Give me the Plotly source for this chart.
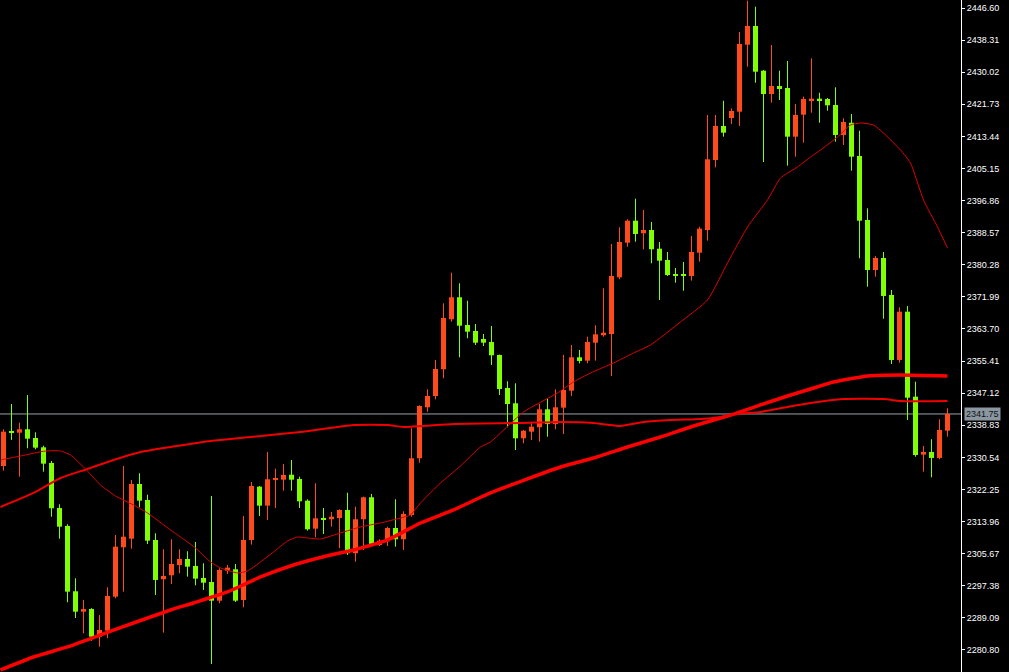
import plotly.graph_objects as go

# ---- candle data (index 0..118), prices ----
opens = [2328.32, 2337.18, 2336.92, 2337.80, 2335.55, 2333.15, 2329.10, 2317.47, 2312.83, 2295.96,
         2290.69, 2291.39, 2284.24, 2285.79, 2294.57, 2307.32, 2309.55, 2323.67, 2319.54, 2309.21,
         2299.06, 2300.09, 2302.75, 2304.30, 2302.50, 2299.40, 2298.36, 2293.53, 2301.28, 2301.64,
         2293.71, 2309.21, 2322.98, 2318.07, 2324.71, 2324.78, 2326.07, 2324.96, 2319.36, 2312.13,
         2314.89, 2314.56, 2314.89, 2316.96, 2305.78, 2314.56, 2320.24, 2307.92, 2308.87, 2312.31,
         2309.39, 2315.67, 2330.31, 2343.48, 2346.40, 2353.30, 2366.21, 2371.89, 2364.74, 2363.19,
         2361.12, 2360.35, 2356.99, 2348.47, 2344.51, 2335.47, 2337.18, 2338.32, 2342.96, 2339.17,
         2343.38, 2347.77, 2356.39, 2355.52, 2360.16, 2362.08, 2362.41, 2377.05, 2385.99, 2391.67,
         2388.42, 2389.27, 2384.44, 2381.52, 2377.91, 2377.65, 2377.39, 2383.41, 2389.27, 2407.35,
         2416.13, 2418.20, 2419.82, 2437.13, 2441.96, 2430.41, 2424.39, 2426.46, 2425.94, 2413.37,
         2419.05, 2422.84, 2423.02, 2423.10, 2421.55, 2413.81, 2416.98, 2408.38, 2391.85, 2378.94,
         2382.04, 2372.48, 2355.70, 2368.17, 2346.22, 2331.24, 2331.94, 2330.39, 2337.44]
highs = [2337.80, 2344.33, 2339.50, 2346.66, 2337.02, 2333.56, 2329.61, 2318.43, 2313.26, 2299.32,
         2293.71, 2291.60, 2289.84, 2296.99, 2310.50, 2328.32, 2324.71, 2326.44, 2320.91, 2310.94,
         2306.81, 2309.39, 2306.81, 2306.29, 2308.69, 2303.19, 2320.57, 2301.90, 2302.75, 2303.01,
         2315.41, 2324.19, 2323.16, 2331.94, 2327.62, 2328.84, 2329.87, 2325.56, 2319.72, 2323.85,
         2317.47, 2316.44, 2317.14, 2321.43, 2317.81, 2320.39, 2321.09, 2309.39, 2312.64, 2319.72,
         2316.62, 2338.06, 2344.00, 2348.13, 2355.70, 2370.34, 2378.24, 2375.51, 2371.01, 2364.99,
         2362.41, 2364.48, 2357.10, 2350.20, 2349.68, 2337.62, 2339.50, 2344.33, 2345.88, 2348.13,
         2356.99, 2359.57, 2358.28, 2361.71, 2364.66, 2374.21, 2385.66, 2389.97, 2392.03, 2397.35,
         2394.44, 2391.34, 2386.17, 2383.59, 2379.46, 2381.01, 2387.72, 2390.12, 2418.97, 2418.97,
         2422.66, 2420.70, 2440.41, 2448.50, 2446.94, 2430.59, 2437.05, 2430.41, 2432.92, 2421.81,
         2423.70, 2433.61, 2424.73, 2423.36, 2426.12, 2418.12, 2419.23, 2414.92, 2394.87, 2382.56,
         2383.59, 2373.77, 2369.31, 2369.64, 2350.09, 2333.49, 2335.22, 2340.38, 2343.22]
lows = [2327.11, 2335.04, 2325.56, 2332.89, 2332.63, 2326.85, 2315.23, 2309.55, 2293.12, 2289.06,
        2285.11, 2283.20, 2281.65, 2283.82, 2294.15, 2295.86, 2306.96, 2317.66, 2308.18, 2295.01,
        2285.27, 2297.85, 2300.61, 2299.73, 2297.51, 2296.30, 2277.19, 2292.86, 2300.43, 2293.20,
        2291.83, 2308.00, 2315.41, 2314.38, 2317.47, 2321.94, 2321.94, 2317.47, 2311.61, 2309.91,
        2310.76, 2312.64, 2307.07, 2305.34, 2303.61, 2306.63, 2307.92, 2307.66, 2307.66, 2307.48,
        2306.63, 2315.23, 2329.17, 2342.34, 2345.55, 2350.97, 2365.59, 2356.39, 2361.30, 2359.57,
        2359.31, 2354.41, 2346.66, 2338.32, 2332.45, 2334.18, 2335.04, 2334.60, 2335.89, 2337.80,
        2336.59, 2346.40, 2354.84, 2354.84, 2355.52, 2361.71, 2351.56, 2376.54, 2384.96, 2386.25,
        2384.29, 2380.67, 2371.19, 2377.39, 2375.66, 2373.59, 2376.18, 2381.08, 2386.51, 2405.46,
        2413.37, 2416.65, 2416.13, 2431.44, 2427.31, 2406.83, 2422.15, 2422.84, 2405.88, 2408.20,
        2411.82, 2419.56, 2416.98, 2420.08, 2412.08, 2411.22, 2404.59, 2381.96, 2374.63, 2377.21,
        2366.36, 2354.66, 2355.00, 2340.20, 2330.72, 2326.85, 2325.40, 2330.05, 2335.89]
closes = [2337.18, 2336.84, 2337.80, 2335.37, 2333.05, 2328.92, 2317.40, 2312.64, 2295.86, 2290.69,
          2291.39, 2284.24, 2285.97, 2294.75, 2307.48, 2310.06, 2323.67, 2319.36, 2309.03, 2298.88,
          2299.91, 2303.01, 2304.30, 2302.31, 2299.22, 2298.18, 2293.53, 2301.46, 2302.06, 2293.53,
          2309.21, 2323.16, 2318.07, 2324.89, 2325.04, 2326.00, 2324.78, 2319.20, 2311.97, 2314.81,
          2314.56, 2315.23, 2316.96, 2305.78, 2314.56, 2320.24, 2308.18, 2309.03, 2312.31, 2309.39,
          2315.92, 2330.31, 2343.82, 2346.40, 2353.37, 2366.54, 2371.89, 2364.55, 2363.00, 2360.16,
          2360.16, 2356.91, 2348.21, 2344.33, 2335.47, 2337.44, 2338.47, 2342.96, 2339.17, 2343.48,
          2347.95, 2356.39, 2355.44, 2360.35, 2362.33, 2362.75, 2377.39, 2386.17, 2391.67, 2388.24,
          2389.27, 2384.29, 2381.34, 2377.65, 2377.39, 2377.39, 2383.59, 2389.61, 2407.53, 2416.13,
          2414.40, 2420.00, 2437.31, 2441.96, 2430.15, 2424.39, 2426.46, 2425.69, 2413.37, 2418.97,
          2423.10, 2423.10, 2422.84, 2421.48, 2413.81, 2417.16, 2408.20, 2391.67, 2378.94, 2382.04,
          2372.23, 2355.70, 2368.17, 2345.96, 2331.16, 2331.94, 2330.39, 2337.62, 2341.75]

# ---- moving averages (bar index, value) ----
ma_fast_idx = [-0.375, 2.125, 5.25, 7.125, 8.375, 10.25, 12.125, 14, 16.25, 18, 20.875, 22.125, 24,
               25.875, 27.125, 29.25, 30.5, 32.125, 33.75, 35.5, 36.75, 38, 39.625, 42.125, 44.625,
               47.125, 49.625, 50.875, 52.125, 54.625, 57.125, 59.625, 60.875, 65, 69.25, 71.25,
               73.375, 76.25, 78.75, 80.875, 84.625, 88, 90.5, 93, 95.5, 97.125, 99.25, 100.875,
               102.125, 104.25, 105.875, 107.125, 108.75, 110, 112.125, 113.375, 115, 116.75, 118]
ma_fast_val = [2329.87, 2330.90, 2332.19, 2332.19, 2331.16, 2327.55, 2323.41, 2320.57, 2318.25, 2316.18,
               2311.79, 2309.98, 2307.14, 2303.53, 2301.98, 2300.69, 2301.20, 2303.53, 2306.11, 2308.95,
               2309.98, 2309.73, 2309.47, 2311.02, 2312.57, 2313.60, 2314.89, 2315.67, 2318.77, 2323.93,
               2328.32, 2333.23, 2334.52, 2342.27, 2347.17, 2350.02, 2352.34, 2354.92, 2357.50, 2359.57,
               2365.51, 2371.19, 2380.75, 2390.05, 2397.02, 2402.70, 2405.54, 2408.12, 2409.93, 2413.29,
               2416.39, 2416.90, 2416.39, 2414.32, 2409.93, 2406.57, 2397.02, 2390.05, 2384.62]

ma_mid_idx = [-0.375, 3.75, 7.125, 10.5, 13.75, 17.125, 20.875, 25, 30.875, 37.125, 43.75, 48, 50,
              56.25, 64.625, 69.625, 73.75, 77.125, 80, 83.375, 87.125, 89.625, 91.75, 94.625, 98,
              100.875, 105, 110, 112.125, 118]
ma_mid_val = [2317.73, 2321.35, 2325.22, 2327.55, 2329.87, 2331.94, 2333.23, 2334.52, 2335.81, 2337.10,
              2338.91, 2338.91, 2338.39, 2339.17, 2339.43, 2339.68, 2339.43, 2338.65, 2339.68, 2340.20,
              2340.46, 2340.98, 2341.75, 2342.27, 2343.56, 2344.59, 2345.62, 2345.62, 2345.11, 2345.11]

ma_slow_idx = [-0.375, 3.75, 8, 12.125, 16.25, 20.875, 23.75, 28, 32.125, 36.25, 40.875, 43.75, 48,
               52.125, 56.25, 60.875, 69.625, 73.75, 78, 82.125, 86.25, 90.5, 94.625, 98, 100.875,
               103.75, 108, 112.125, 118]
ma_slow_val = [2275.64, 2278.99, 2281.58, 2284.68, 2287.77, 2291.13, 2292.94, 2295.78, 2299.65, 2302.75,
               2305.34, 2306.63, 2309.21, 2313.60, 2316.96, 2321.35, 2328.06, 2330.39, 2333.23, 2335.81,
               2338.65, 2341.23, 2344.08, 2346.40, 2348.21, 2350.02, 2351.56, 2351.82, 2351.56]

tick_vals = [2446.60, 2438.31, 2430.02, 2421.73, 2413.44, 2405.15, 2396.86, 2388.57, 2380.28, 2371.99,
             2363.70, 2355.41, 2347.12, 2338.83, 2330.54, 2322.25, 2313.96, 2305.67, 2297.38, 2289.09,
             2280.80]
tick_text = ["%.2f" % v for v in tick_vals]
last_price = 2341.75

UP = "#FF4A1C"
DOWN = "#80FF00"

fig = go.Figure()

# wicks
for color, up in ((UP, True), (DOWN, False)):
    wx, wy = [], []
    for i in range(len(opens)):
        if (closes[i] >= opens[i]) == up:
            wx += [i, i, None]
            wy += [lows[i], highs[i], None]
    fig.add_trace(go.Scatter(x=wx, y=wy, mode="lines", line=dict(color=color, width=1),
                             hoverinfo="skip", showlegend=False))

# bodies
for color, up in ((UP, True), (DOWN, False)):
    bx, bb, bh = [], [], []
    for i in range(len(opens)):
        if (closes[i] >= opens[i]) == up:
            bx.append(i)
            bb.append(min(opens[i], closes[i]))
            bh.append(max(abs(closes[i] - opens[i]), 0.35))
    fig.add_trace(go.Bar(x=bx, y=bh, base=bb, width=0.625, marker=dict(color=color, line=dict(width=0)),
                         hoverinfo="skip", showlegend=False))

# moving averages
fig.add_trace(go.Scatter(x=ma_slow_idx, y=ma_slow_val, mode="lines",
                         line=dict(color="#FF0000", width=3.5, shape="spline", smoothing=0.5),
                         hoverinfo="skip", showlegend=False))
fig.add_trace(go.Scatter(x=ma_mid_idx, y=ma_mid_val, mode="lines",
                         line=dict(color="#F00000", width=2, shape="spline", smoothing=0.5),
                         hoverinfo="skip", showlegend=False))
fig.add_trace(go.Scatter(x=ma_fast_idx, y=ma_fast_val, mode="lines",
                         line=dict(color="#E00000", width=1, shape="spline", smoothing=0.5),
                         hoverinfo="skip", showlegend=False))

# current price line
fig.add_shape(type="line", xref="paper", x0=0, x1=1, yref="y", y0=last_price, y1=last_price,
              line=dict(color="#9aa3ab", width=1), layer="below")
fig.add_annotation(xref="paper", x=1, xanchor="left", xshift=3, yref="y", y=last_price,
                   yanchor="middle", text="%.2f" % last_price, showarrow=False,
                   bgcolor="#8a96a0", borderpad=1,
                   font=dict(family="Liberation Sans, Arial, sans-serif", size=9, color="#111111"))

fig.update_layout(
    width=1009, height=672,
    margin=dict(l=0, r=48, t=0, b=0),
    paper_bgcolor="#000000", plot_bgcolor="#000000",
    barmode="overlay", showlegend=False,
    xaxis=dict(range=[-0.4375, 119.6875], visible=False, showgrid=False, zeroline=False),
    yaxis=dict(range=[2275.11, 2448.67], side="right", showgrid=False, zeroline=False,
               tickmode="array", tickvals=tick_vals, ticktext=tick_text,
               ticks="outside", ticklen=3, tickcolor="#FFFFFF", tickwidth=1,
               showline=True, linecolor="#FFFFFF", linewidth=1,
               tickfont=dict(family="Liberation Sans, Arial, sans-serif", size=9, color="#FFFFFF")),
)

fig.write_html("out.html", config={"displayModeBar": False},
               post_script="document.body.style.margin='0';document.body.style.background='#000';")
